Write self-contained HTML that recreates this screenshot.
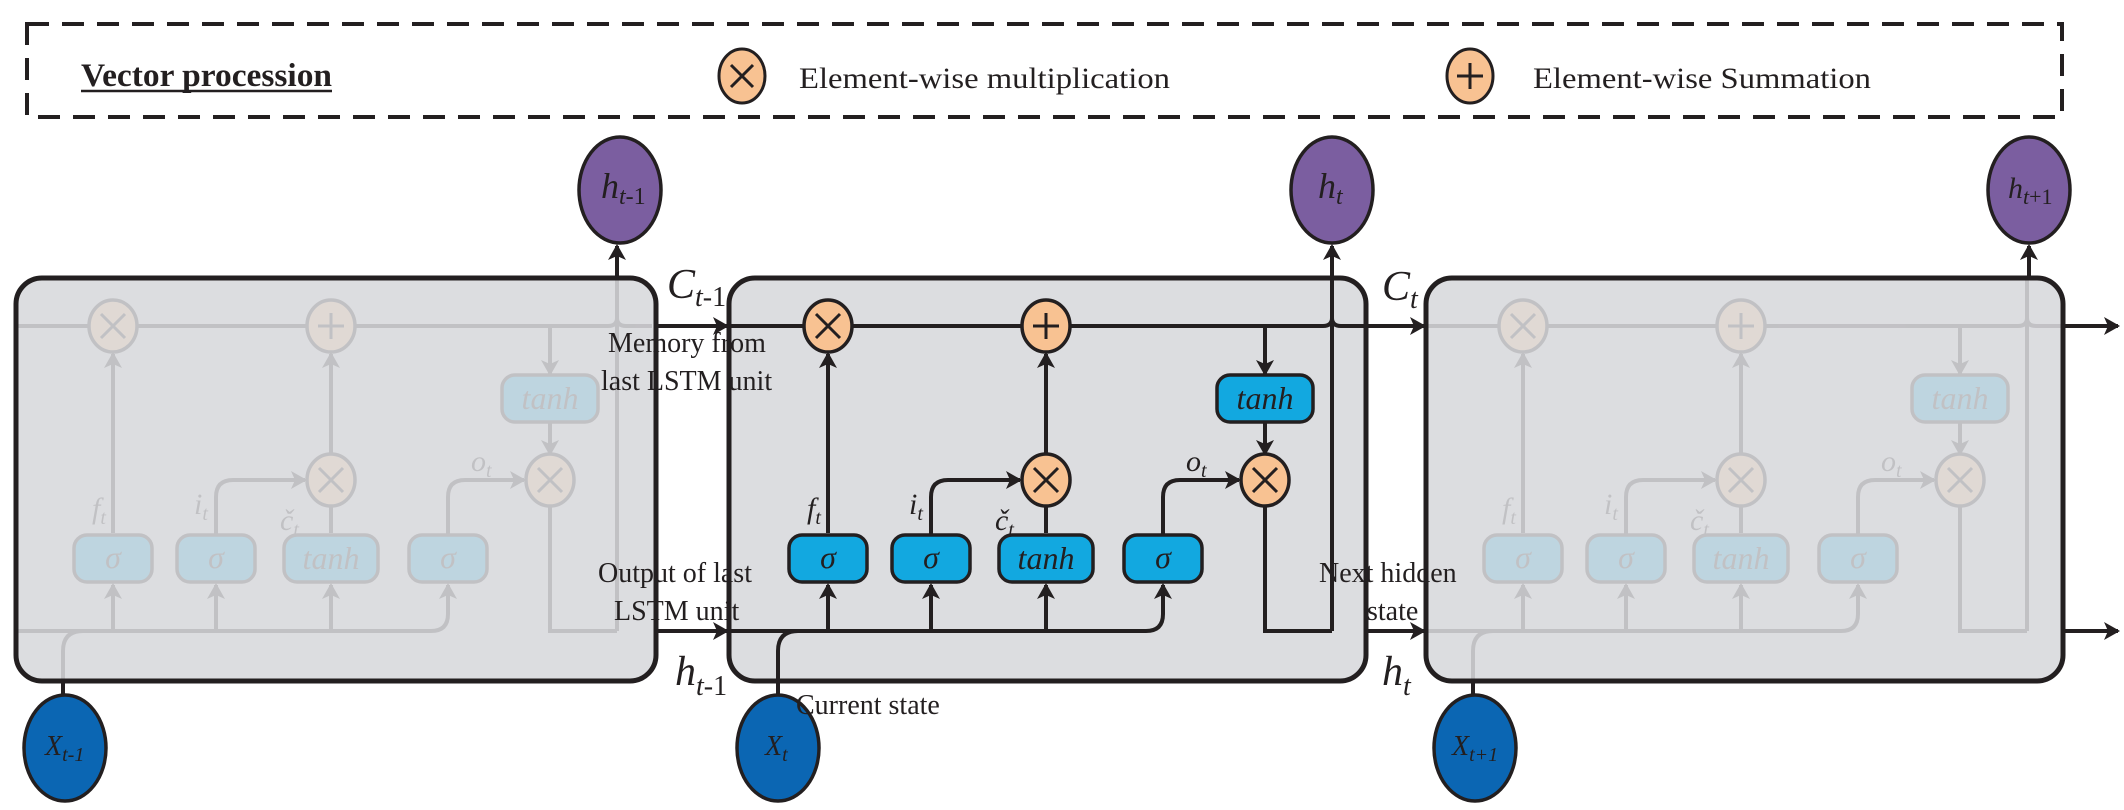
<!DOCTYPE html>
<html><head><meta charset="utf-8"><style>
html,body{margin:0;padding:0;background:#fff;}
svg{display:block;font-family:"Liberation Serif","Times New Roman",serif;}
text{font-family:"Liberation Serif","Times New Roman",serif;}
</style></head><body>
<svg width="2124" height="810" viewBox="0 0 2124 810" xmlns="http://www.w3.org/2000/svg" font-family="Liberation Serif, serif">
<defs>
<marker id="ar" viewBox="-14 -10 16 20" refX="0" refY="0" markerWidth="16" markerHeight="20" markerUnits="userSpaceOnUse" orient="auto">
<path d="M-14,-9 L2,0 L-14,9 L-10,0 z" fill="#231f20"/>
</marker>
<g id="cell">
 <g fill="none" stroke="#231f20" stroke-width="4">
  <path d="M0 326 H592 q9 0 9 -8 q0 8 9 8 H636"/>
  <path d="M97 533 V354" marker-end="url(#ar)"/>
  <path d="M315 454 V354" marker-end="url(#ar)"/>
  <path d="M315 533 V504"/>
  <path d="M200 535 V497 q0 -17 17 -17 H289" marker-end="url(#ar)"/>
  <path d="M432 535 V497 q0 -17 17 -17 H508" marker-end="url(#ar)"/>
  <path d="M534 326 V374" marker-end="url(#ar)"/>
  <path d="M534 422 V454" marker-end="url(#ar)"/>
  <path d="M534 504 V631 H601"/>
  <path d="M601 631 V278"/>
  <path d="M0 631 H415 q17 0 17 -17 V585" marker-end="url(#ar)"/>
  <path d="M97 631 V585" marker-end="url(#ar)"/>
  <path d="M200 631 V585" marker-end="url(#ar)"/>
  <path d="M315 631 V585" marker-end="url(#ar)"/>
  <path d="M47 681 V651 q0 -20 20 -20 H80"/>
 </g>
 <g stroke="#231f20" stroke-width="3.5">
  <ellipse cx="97" cy="326" rx="24" ry="26" fill="#f8c292"/>
  <path d="M85 314 L109 338 M109 314 L85 338" stroke-width="3"/>
  <ellipse cx="315" cy="326" rx="24" ry="26" fill="#f8c292"/>
  <path d="M315 313 V339 M302 326 H328" stroke-width="3"/>
  <ellipse cx="315" cy="480" rx="24" ry="26" fill="#f8c292"/>
  <path d="M303 468 L327 492 M327 468 L303 492" stroke-width="3"/>
  <ellipse cx="534" cy="480" rx="24" ry="26" fill="#f8c292"/>
  <path d="M522 468 L546 492 M546 468 L522 492" stroke-width="3"/>
  <rect x="58" y="535" width="78" height="47" rx="13" fill="#12a8e0"/>
  <rect x="161" y="535" width="78" height="47" rx="13" fill="#12a8e0"/>
  <rect x="268" y="535" width="94" height="47" rx="13" fill="#12a8e0"/>
  <rect x="393" y="535" width="78" height="47" rx="13" fill="#12a8e0"/>
  <rect x="486" y="375" width="96" height="47" rx="13" fill="#12a8e0"/>
 </g>
 <g fill="#231f20" font-style="italic" font-size="32" text-anchor="middle">
  <text x="97" y="568">σ</text>
  <text x="200" y="568">σ</text>
  <text x="315" y="569">tanh</text>
  <text x="432" y="568">σ</text>
  <text x="534" y="409">tanh</text>
 </g>
 <g fill="#231f20" font-style="italic" font-size="30">
  <text x="76" y="518">f<tspan font-size="20" dy="6">t</tspan></text>
  <text x="178" y="514">i<tspan font-size="20" dy="6">t</tspan></text>
  <text x="264" y="530">č<tspan font-size="20" dy="6">t</tspan></text>
  <text x="455" y="471">o<tspan font-size="20" dy="6">t</tspan></text>
 </g>
</g>
</defs>

<rect x="27" y="24" width="2035" height="93" fill="none" stroke="#231f20" stroke-width="4" stroke-dasharray="22,13"/>
<text x="81" y="86" font-size="33" font-weight="bold" fill="#231f20" textLength="251" lengthAdjust="spacingAndGlyphs">Vector procession</text>
<line x1="81" y1="91" x2="332" y2="91" stroke="#231f20" stroke-width="2.5"/>
<ellipse cx="742" cy="76" rx="23" ry="27" fill="#f8c292" stroke="#231f20" stroke-width="3"/>
<path d="M731 65 L753 87 M753 65 L731 87" stroke="#231f20" stroke-width="3"/>
<text x="799" y="88" font-size="30" fill="#231f20" textLength="371" lengthAdjust="spacingAndGlyphs">Element-wise multiplication</text>
<ellipse cx="1470" cy="76" rx="23" ry="27" fill="#f8c292" stroke="#231f20" stroke-width="3"/>
<path d="M1470 63 V89 M1457 76 H1483" stroke="#231f20" stroke-width="3"/>
<text x="1533" y="88" font-size="30" fill="#231f20" textLength="338" lengthAdjust="spacingAndGlyphs">Element-wise Summation</text>

<g fill="#dcdde0" stroke="#231f20" stroke-width="5">
 <rect x="16" y="278" width="640" height="403" rx="26"/>
 <rect x="729" y="278" width="637" height="403" rx="26"/>
 <rect x="1426" y="278" width="637" height="403" rx="26"/>
</g>

<use href="#cell" x="16" opacity="0.14"/>
<use href="#cell" x="731"/>
<use href="#cell" x="1426" opacity="0.14"/>

<g fill="none" stroke="#231f20" stroke-width="4">
 <path d="M658 326 H727" marker-end="url(#ar)"/>
 <path d="M658 631 H727" marker-end="url(#ar)"/>
 <path d="M1366 326 H1424" marker-end="url(#ar)"/>
 <path d="M1366 631 H1424" marker-end="url(#ar)"/>
 <path d="M2063 326 H2118" marker-end="url(#ar)"/>
 <path d="M2063 631 H2118" marker-end="url(#ar)"/>
 <path d="M617 278 V246" marker-end="url(#ar)"/>
 <path d="M1332 278 V246" marker-end="url(#ar)"/>
 <path d="M2029 278 V246" marker-end="url(#ar)"/>
 <path d="M63 681 V697"/>
 <path d="M778 681 V697"/>
 <path d="M1473 681 V697"/>
</g>

<g stroke="#231f20" stroke-width="3.5" fill="#7b5ea0">
 <ellipse cx="620" cy="190" rx="41" ry="53"/>
 <ellipse cx="1332" cy="190" rx="41" ry="53"/>
 <ellipse cx="2029" cy="190" rx="41" ry="53"/>
</g>
<g fill="#231f20" font-style="italic">
 <text x="601" y="198" font-size="36">h<tspan font-size="24" dy="6">t</tspan><tspan font-style="normal" font-size="24">-1</tspan></text>
 <text x="1318" y="198" font-size="36">h<tspan font-size="24" dy="6">t</tspan></text>
 <text x="2008" y="198" font-size="30">h<tspan font-size="22" dy="6">t</tspan><tspan font-style="normal" font-size="22">+1</tspan></text>
</g>

<g stroke="#231f20" stroke-width="3.5" fill="#0b66b3">
 <ellipse cx="65" cy="748" rx="41" ry="53"/>
 <ellipse cx="778" cy="748" rx="41" ry="53"/>
 <ellipse cx="1475" cy="748" rx="41" ry="53"/>
</g>
<g fill="#231f20" font-style="italic">
 <text x="45" y="755" font-size="28">X<tspan font-size="20" dy="6">t-1</tspan></text>
 <text x="765" y="755" font-size="28">X<tspan font-size="20" dy="6">t</tspan></text>
 <text x="1452" y="755" font-size="28">X<tspan font-size="20" dy="6">t+1</tspan></text>
</g>

<g fill="#231f20" font-size="28">
 <text x="667" y="298" font-style="italic" font-size="42">C<tspan font-size="28" dy="8">t</tspan><tspan font-style="normal" font-size="28">-1</tspan></text>
 <text x="1382" y="300" font-style="italic" font-size="42">C<tspan font-size="28" dy="8">t</tspan></text>
 <text x="608" y="352">Memory from</text>
 <text x="601" y="390">last LSTM unit</text>
 <text x="598" y="582">Output of last</text>
 <text x="614" y="620">LSTM unit</text>
 <text x="675" y="685" font-style="italic" font-size="42">h<tspan font-size="28" dy="10">t</tspan><tspan font-style="normal" font-size="28">-1</tspan></text>
 <text x="796" y="714">Current state</text>
 <text x="1319" y="582">Next hidden</text>
 <text x="1367" y="620">state</text>
 <text x="1382" y="685" font-style="italic" font-size="42">h<tspan font-size="28" dy="10">t</tspan></text>
</g>
</svg>
</body></html>
